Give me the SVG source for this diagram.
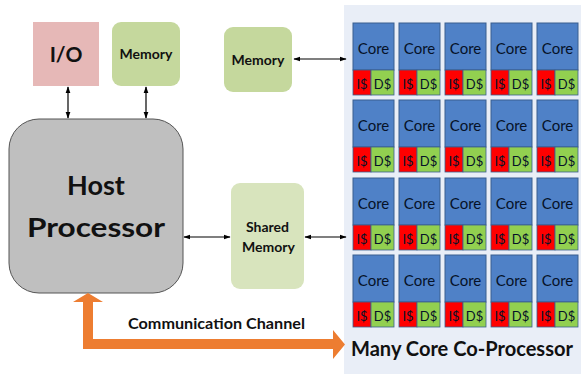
<svg xmlns="http://www.w3.org/2000/svg" width="581" height="374" viewBox="0 0 581 374">
<defs>
<marker id="ah" viewBox="0 0 10 10" refX="9" refY="5" markerWidth="7" markerHeight="7" orient="auto-start-reverse" markerUnits="userSpaceOnUse">
<path d="M0,1.5 L10,5 L0,8.5 Z" fill="#000"/>
</marker>
<style>
text{font-family:Lato,"Liberation Sans",Arial,sans-serif;font-weight:bold;text-anchor:middle;fill:#111}
.core{fill:#4f81c7;stroke:#3a5f8f;stroke-width:1}
.ic{fill:#ff0000;stroke:#3a5f8f;stroke-width:0.8}
.dc{fill:#92d050;stroke:#3a5f8f;stroke-width:0.8}
.ct{font-size:15px;font-weight:normal;fill:#061228}
.cc{font-size:13px;font-weight:normal;fill:#061228}
.mem{fill:#c5d89d}
.lbl{font-size:14px}
.conn{stroke:#000;stroke-width:1.2;fill:none;marker-start:url(#ah);marker-end:url(#ah)}
</style>
<g id="coreT">
<rect class="core" x="0" y="0" width="41" height="47"/>
<rect class="ic" x="0" y="47" width="18" height="25"/>
<rect class="dc" x="18" y="47" width="23" height="25"/>
<text class="ct" x="20.5" y="31">Core</text>
<text class="cc" x="9" y="66">I$</text>
<text class="cc" x="29.5" y="66">D$</text>
</g>
</defs>
<rect width="581" height="374" fill="#fff"/>
<g id="panel">
<rect x="344" y="5" width="237" height="369" fill="#e9eef7"/>
<text x="462" y="356" style="font-size:20px" textLength="222" lengthAdjust="spacingAndGlyphs">Many Core Co-Processor</text>
</g>
<g id="cores">
<use href="#coreT" x="353" y="23"/><use href="#coreT" x="399" y="23"/><use href="#coreT" x="445" y="23"/><use href="#coreT" x="491" y="23"/><use href="#coreT" x="537" y="23"/>
<use href="#coreT" x="353" y="100"/><use href="#coreT" x="399" y="100"/><use href="#coreT" x="445" y="100"/><use href="#coreT" x="491" y="100"/><use href="#coreT" x="537" y="100"/>
<use href="#coreT" x="353" y="178"/><use href="#coreT" x="399" y="178"/><use href="#coreT" x="445" y="178"/><use href="#coreT" x="491" y="178"/><use href="#coreT" x="537" y="178"/>
<use href="#coreT" x="353" y="255"/><use href="#coreT" x="399" y="255"/><use href="#coreT" x="445" y="255"/><use href="#coreT" x="491" y="255"/><use href="#coreT" x="537" y="255"/>
</g>
<g id="io">
<rect x="33" y="22" width="66" height="64" fill="#e6b8b7"/>
<text x="66" y="62" style="font-size:21px">I/O</text>
</g>
<g id="memory1">
<rect class="mem" x="112" y="22" width="68" height="64" rx="9"/>
<text class="lbl" x="146" y="59">Memory</text>
</g>
<g id="memory2">
<rect class="mem" x="224" y="27" width="68" height="65" rx="9"/>
<text class="lbl" x="258" y="65">Memory</text>
</g>
<g id="host">
<rect x="9" y="119" width="174" height="174" rx="30" fill="#bfbfbf" stroke="#555" stroke-width="1"/>
<text x="96" y="195" style="font-size:27px">Host</text>
<text x="96" y="237" style="font-size:27px" textLength="138" lengthAdjust="spacingAndGlyphs">Processor</text>
</g>
<g id="shared">
<rect x="231" y="183" width="73" height="106" rx="9" fill="#d8e4bd"/>
<text class="lbl" x="267.5" y="232">Shared</text>
<text class="lbl" x="268.5" y="252">Memory</text>
</g>
<g id="connectors">
<line class="conn" x1="68" y1="87" x2="68" y2="118"/>
<line class="conn" x1="146" y1="87" x2="146" y2="118"/>
<line class="conn" x1="294" y1="59" x2="346" y2="59"/>
<line class="conn" x1="184" y1="237" x2="230" y2="237"/>
<line class="conn" x1="305" y1="237" x2="346" y2="237"/>
<path d="M88,293 L103,302 L93,302 L93,339 L333,339 L333,330 L345,344.5 L333,359 L333,349 L83,349 L83,302 L73,302 Z" fill="#ed7d31"/>
<text x="216.5" y="329" style="font-size:15px" textLength="177" lengthAdjust="spacingAndGlyphs">Communication Channel</text>
</g>
</svg>
